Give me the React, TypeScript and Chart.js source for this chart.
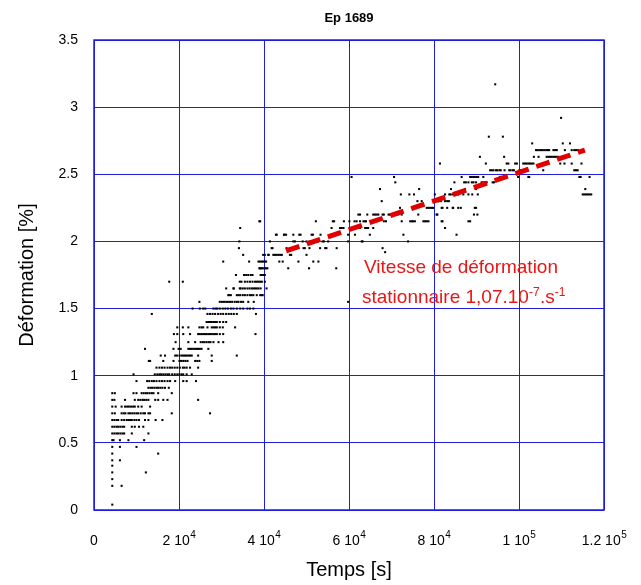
import React, { useEffect, useRef } from "react";
import { Chart, registerables } from "chart.js";

Chart.register(...registerables);

// ---- Data (time in kiloseconds, deformation in %) ----
const primaryRows: Array<[number, number[]]> = [
  [0.04, [4.3]],
  [0.18, [4.3, 6.5]],
  [0.23, [4.3]],
  [0.28, [4.3, 12.2]],
  [0.33, [4.3]],
  [0.37, [4.3, 6.1]],
  [0.42, [4.3, 15.1]],
  [0.47, [4.3, 6.1, 10.0]],
  [0.52, [4.3, 4.6, 6.1, 8.1, 11.8]],
  [0.57, [4.3, 4.8, 5.3, 5.7, 6.2, 6.7, 7.1, 8.9, 12.8]],
  [0.62, [4.3, 4.8, 5.3, 5.7, 6.2, 6.7, 7.1, 8.9, 9.6, 10.6, 11.6]],
  [0.67, [4.3, 4.8, 5.3, 5.7, 6.5, 7.1, 7.7, 8.1, 8.5, 8.9, 9.5, 10.0, 10.6, 12.0, 12.8, 14.5, 16.1]],
  [0.72, [4.3, 4.9, 6.5, 7.0, 7.4, 8.1, 8.5, 9.0, 9.5, 10.0, 10.4, 11.0, 11.6, 12.0, 12.8, 13.2, 18.3, 27.3]],
  [0.77, [4.3, 5.1, 6.5, 7.3, 7.8, 8.2, 8.7, 9.2, 9.6, 10.4, 11.2, 13.2]],
  [0.82, [4.3, 4.8, 7.3, 9.6, 10.4, 10.9, 11.4, 11.8, 12.3, 12.8, 14.4, 15.1, 16.3, 17.3, 24.5]],
  [0.87, [4.3, 4.9, 9.3, 10.0, 11.2, 11.7, 12.2, 12.6, 13.1, 13.6, 14.0, 15.1, 18.3]],
  [0.91, [12.8, 13.3, 13.7, 14.2, 14.7, 15.1, 15.6, 16.1, 16.7, 17.6]],
  [0.96, [10.0, 12.5, 13.0, 13.6, 14.1, 14.7, 15.4, 16.0, 16.6, 17.3, 17.9, 19.1, 21.0, 21.8, 24.0]],
  [1.01, [9.3, 14.3, 14.9, 15.4, 15.8, 16.3, 16.8, 17.3, 17.7, 18.4, 19.0, 19.6, 20.1, 20.6, 21.0, 21.8, 23.0]],
  [1.06, [14.7, 15.4, 16.0, 16.6, 17.3, 17.9, 18.4, 19.0, 19.6, 20.2, 20.9, 21.3, 21.8, 22.6, 24.5]],
  [1.11, [12.9, 13.2, 16.3, 18.7, 20.1, 20.5, 21.0, 21.5, 22.0, 23.8, 24.3, 24.8, 27.7]],
  [1.15, [15.7, 16.7, 19.1, 19.5, 20.1, 20.6, 21.0, 21.4, 21.8, 22.2, 22.6, 23.0, 24.5, 27.7, 33.6]],
  [1.20, [12.0, 18.7, 19.9, 20.4, 22.2, 22.6, 23.0, 23.4, 23.8, 24.2, 24.5, 24.9, 25.3, 26.9]],
];

const transitionRows: Array<[number, number[]]> = [
  [1.25, [19.2, 22.2, 23.8, 25.1, 25.6, 26.0, 26.5, 27.0, 27.4, 28.1, 29.3, 30.4]],
  [1.31, [18.8, 19.6, 21.0, 22.6, 24.5, 24.9, 25.3, 25.7, 26.1, 26.5, 26.9, 27.3, 27.7, 28.1, 28.5, 28.9, 29.6, 30.4, 38.0]],
  [1.36, [19.6, 20.9, 22.2, 24.8, 25.3, 25.7, 26.7, 27.7, 28.1, 28.5, 28.9, 29.6, 30.3, 33.2]],
  [1.40, [26.5, 26.9, 27.3, 27.7, 28.1, 28.5, 28.9, 29.6, 30.4, 31.1]],
  [1.46, [13.6, 26.7, 27.3, 27.9, 28.5, 29.2, 29.8, 30.4, 31.1, 31.7, 32.3, 32.9, 33.6, 38.1]],
  [1.50, [23.2, 24.9, 25.7, 26.2, 28.1, 28.6, 29.0, 29.6, 30.3, 30.9, 31.5, 32.2, 32.8, 33.6, 34.4, 35.1, 36.1, 36.7, 37.5]],
  [1.55, [24.8, 29.6, 30.1, 30.6, 31.1, 31.5, 32.0, 32.5, 33.1, 33.6, 34.0, 34.6, 35.1, 36.3, 37.6, 59.8]],
  [1.60, [31.6, 31.8, 32.2, 33.6, 34.0, 34.4, 35.0, 35.5, 36.1, 36.7, 37.1, 37.5, 38.3, 39.1, 39.5, 39.7]],
  [1.65, [31.1, 32.8, 32.9, 34.3, 34.5, 35.0, 35.5, 36.1, 36.6, 37.1, 37.5, 37.9, 38.3, 38.7, 39.2, 40.6]],
  [1.70, [17.7, 20.9, 34.3, 34.7, 35.5, 36.1, 36.7, 37.3, 37.9, 38.3, 38.7, 39.1, 39.5, 40.2]],
  [1.75, [33.4, 35.3, 35.8, 36.3, 36.9, 37.3, 39.2, 39.5, 39.7, 39.8, 40.2]],
  [1.80, [38.9, 39.1, 39.2, 39.5, 39.8, 40.2, 40.5, 40.8, 45.7, 50.6, 57.0]],
  [1.85, [30.4, 36.5, 38.7, 39.1, 39.5, 39.8, 40.2, 40.5, 43.6, 44.4, 48.1, 51.6, 52.8]],
  [1.90, [35.1, 39.8, 40.2, 41.0, 41.1, 42.2, 42.6, 43.0, 43.4, 43.8, 44.2, 46.1, 46.4, 50.0]],
];

const steadyRows: Array<[number, number[]]> = [
  [1.92, [68.5]],
  [1.95, [34.1, 41.8, 42.0, 45.3, 46.1, 46.5, 49.3, 49.6, 50.7, 53.2, 54.4, 54.7, 57.1, 67.9]],
  [2.00, [34.2, 41.4, 46.9, 47.3, 49.1, 50.0, 50.7, 51.6, 52.2, 52.6, 53.8, 54.1, 55.1, 59.8, 63.0, 63.2, 73.9]],
  [2.05, [42.8, 43.0, 44.7, 44.8, 45.2, 46.9, 48.3, 48.6, 51.2, 51.5, 53.3, 55.9, 57.3, 59.8, 61.4, 64.9, 72.8, 85.3]],
  [2.10, [34.4, 55.9, 57.9, 58.3, 58.7, 60.6, 61.0, 61.4, 61.8, 62.2, 62.6, 63.8, 64.2, 64.5, 65.7, 82.6]],
  [2.15, [38.9, 39.1, 52.2, 56.2, 56.5, 58.8, 60.1, 61.3, 61.8, 62.6, 63.4, 63.8, 64.0, 65.3, 68.2, 68.7, 72.4, 74.4, 74.8, 75.1, 75.5, 77.5, 77.9, 78.3, 78.7, 81.8, 82.0, 88.1, 88.5]],
  [2.20, [62.2, 62.6, 64.3, 65.7, 66.1, 66.5, 66.9, 67.9, 68.2, 69.3, 69.6, 70.0, 71.4, 72.4, 76.3, 80.6, 80.8, 89.4, 90.2]],
  [2.25, [72.0, 75.5, 78.3, 78.7, 79.1, 79.5, 79.8, 81.8, 82.0, 83.1, 84.4, 84.5, 85.7, 86.3, 89.6, 89.9]],
  [2.30, [67.7, 76.1, 77.1, 80.5, 80.8, 81.0, 81.1, 81.6, 82.6, 83.1, 83.5]],
  [2.35, [72.2, 74.2, 75.3, 80.2, 82.6, 83.6, 83.9, 84.4, 85.0, 85.7, 86.9, 88.1, 89.0, 90.3, 115.0, 115.4, 115.8, 116.2, 116.6, 117.0]],
  [2.39, [67.3, 76.5, 84.0, 87.3, 89.9, 115.6]],
  [2.44, [70.9, 84.8, 87.1, 87.5, 88.1, 88.9, 89.3, 89.9, 91.2, 91.6, 92.0, 92.4, 93.8, 94.1]],
  [2.48, [60.6, 70.6, 86.5, 88.5, 88.9, 89.3, 89.6, 90.0, 90.4, 91.6, 95.5, 99.8, 102.2, 102.4, 114.2, 114.5, 116.6]],
  [2.53, [93.2, 93.6, 94.0, 94.6, 94.9, 95.4, 95.7, 96.6, 97.7, 98.0, 98.5, 98.8, 100.1, 100.4, 101.5, 105.7, 113.0, 113.4, 113.8]],
  [2.58, [81.4, 92.2, 97.1, 97.5, 99.1, 99.5, 101.0, 101.4, 101.8, 102.2, 102.6, 103.0, 103.4, 109.7, 110.7, 112.4, 114.7]],
  [2.63, [90.8, 96.5, 103.5, 104.6, 106.5, 106.9, 107.3, 107.7, 108.1, 108.5, 108.9, 109.3, 111.2, 111.6, 111.8]],
  [2.68, [104.0, 104.4, 104.8, 105.2, 105.6, 106.0, 106.4, 106.8, 107.1, 108.1, 108.5, 108.9, 110.8, 112.4, 113.0, 113.4, 113.9]],
  [2.73, [103.1, 110.3, 112.0]],
  [2.78, [92.9, 96.2]],
  [2.92, [109.9]],
  [3.17, [94.4]],
];

// Stationary creep fit (red dashed)
const fitTimes = [45200, 115500];
const fitValues = [1.93, 2.68];

// Axis ticks
const xTickValues = [0, 20000, 40000, 60000, 80000, 100000, 120000];
const xTickMantissa = ["0", "2", "4", "6", "8", "1", "1.2"];
const xTickExponent = ["", "4", "4", "4", "4", "5", "5"];
const yTickValues = [0, 0.5, 1, 1.5, 2, 2.5, 3, 3.5];
const yTickLabels = ["0", "0.5", "1", "1.5", "2", "2.5", "3", "3.5"];

const titleText = "Ep 1689";
const xTitle = "Temps [s]";
const yTitle = "Déformation [%]";
const noteLine1 = "Vitesse de déformation";
const noteLine2Parts = ["stationnaire 1,07.10", "-7", ".s", "-1"];

const FONT = "'Liberation Sans', Arial, Helvetica, sans-serif";
const GRID = "rgb(30,30,225)";
const RED = "rgb(232,22,22)";

const allRows = [...primaryRows, ...transitionRows, ...steadyRows];
const scatterPoints = allRows.flatMap(([y, xs]) => xs.map((x) => ({ x: x * 1000, y })));
const fitPoints = fitTimes.map((t, i) => ({ x: t, y: fitValues[i] }));

const textPlugin = {
  id: "textPlugin",
  afterDraw(chart: any) {
    const ctx = chart.ctx as CanvasRenderingContext2D;
    const xs = chart.scales.x;
    const ys = chart.scales.y;
    const area = chart.chartArea;
    ctx.save();
    // frame
    ctx.strokeStyle = GRID;
    ctx.lineWidth = 1.5;
    ctx.strokeRect(area.left, area.top, area.right - area.left, area.bottom - area.top);

    ctx.fillStyle = "#000";
    // title
    ctx.font = `bold 13px ${FONT}`;
    ctx.textAlign = "center";
    ctx.textBaseline = "middle";
    ctx.fillText(titleText, (area.left + area.right) / 2, 18);

    // y tick labels
    ctx.font = `14px ${FONT}`;
    ctx.textAlign = "right";
    ctx.textBaseline = "middle";
    yTickValues.forEach((v, i) => {
      ctx.fillText(yTickLabels[i], area.left - 16, ys.getPixelForValue(v));
    });

    // x tick labels with superscript exponent
    ctx.textBaseline = "alphabetic";
    ctx.textAlign = "left";
    xTickValues.forEach((v, i) => {
      const px = xs.getPixelForValue(v);
      const main = xTickExponent[i] ? xTickMantissa[i] + " 10" : xTickMantissa[i];
      ctx.font = `14px ${FONT}`;
      const w1 = ctx.measureText(main).width;
      ctx.font = `10px ${FONT}`;
      const w2 = xTickExponent[i] ? ctx.measureText(xTickExponent[i]).width : 0;
      const start = px - (w1 + w2) / 2;
      ctx.font = `14px ${FONT}`;
      ctx.fillText(main, start, 545);
      if (xTickExponent[i]) {
        ctx.font = `10px ${FONT}`;
        ctx.fillText(xTickExponent[i], start + w1 + 0.5, 538);
      }
    });

    // axis titles
    ctx.font = `20px ${FONT}`;
    ctx.textAlign = "center";
    ctx.textBaseline = "middle";
    ctx.fillText(xTitle, (area.left + area.right) / 2, 570);
    ctx.save();
    ctx.translate(27, (area.top + area.bottom) / 2);
    ctx.rotate(-Math.PI / 2);
    ctx.fillText(yTitle, 0, 0);
    ctx.restore();

    // annotation
    ctx.fillStyle = RED;
    ctx.textAlign = "left";
    ctx.textBaseline = "alphabetic";
    ctx.font = `19px ${FONT}`;
    ctx.fillText(noteLine1, 364, 273);
    let cx = 362;
    noteLine2Parts.forEach((part, i) => {
      const sup = i % 2 === 1;
      ctx.font = sup ? `12px ${FONT}` : `19px ${FONT}`;
      ctx.fillText(part, cx, sup ? 296 : 303);
      cx += ctx.measureText(part).width + (sup ? 0.5 : 0);
    });
    ctx.restore();
  },
};

export default function App() {
  const ref = useRef<HTMLCanvasElement | null>(null);
  useEffect(() => {
    if (!ref.current) return;
    const chart = new Chart(ref.current, {
      type: "scatter",
      data: {
        datasets: [
          {
            type: "line",
            data: fitPoints,
            borderColor: "rgb(225,0,0)",
            borderWidth: 5,
            borderDash: [14, 8],
            borderCapStyle: "butt",
            pointRadius: 0,
            fill: false,
          } as any,
          {
            data: scatterPoints,
            pointStyle: "rect",
            pointRadius: 1.45,
            backgroundColor: "#000",
            borderWidth: 0,
          } as any,
        ],
      },
      plugins: [textPlugin],
      options: {
        responsive: false,
        animation: false,
        events: [],
        layout: { padding: { left: 0, top: 40, right: 37, bottom: 0 } },
        plugins: { legend: { display: false }, tooltip: { enabled: false }, title: { display: false } },
        scales: {
          x: {
            type: "linear",
            min: 0,
            max: 120000,
            afterBuildTicks: (s: any) => {
              s.ticks = xTickValues.map((v) => ({ value: v }));
            },
            afterFit: (s: any) => {
              s.height = 75;
            },
            ticks: { display: false },
            grid: { color: GRID, lineWidth: 1, drawTicks: false },
            border: { display: false },
          },
          y: {
            type: "linear",
            min: 0,
            max: 3.5,
            afterBuildTicks: (s: any) => {
              s.ticks = yTickValues.map((v) => ({ value: v }));
            },
            afterFit: (s: any) => {
              s.width = 94;
            },
            ticks: { display: false },
            grid: { color: GRID, lineWidth: 1, drawTicks: false },
            border: { display: false },
          },
        },
      } as any,
    });
    return () => chart.destroy();
  }, []);
  return (
    <div style={{ position: "fixed", left: 0, top: 0, width: 641, height: 585, background: "#fff" }}>
      <canvas ref={ref} width={641} height={585} style={{ width: 641, height: 585, display: "block" }} />
    </div>
  );
}
